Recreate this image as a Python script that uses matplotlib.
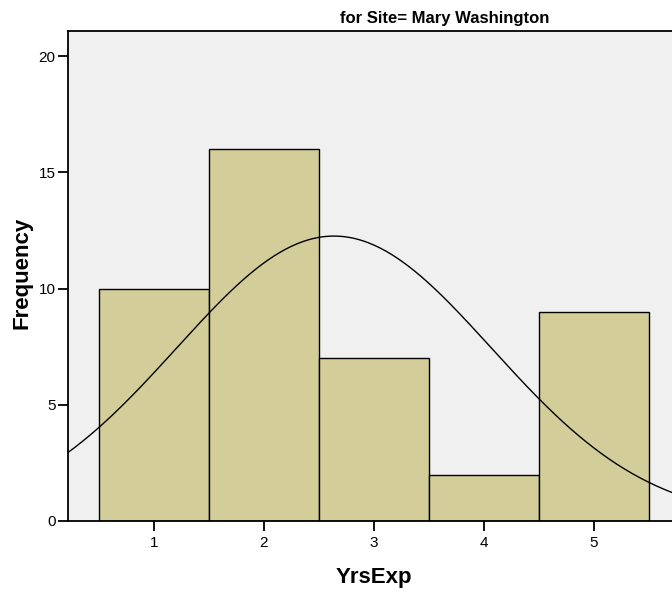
import numpy as np
import matplotlib.pyplot as plt

plt.rcParams['font.family'] = ['Liberation Sans', 'DejaVu Sans']

# years of experience, Mary Washington site
yrs = [1, 2, 3, 4, 5]
counts = [10, 16, 7, 2, 9]

values = np.repeat(yrs, counts)
n = len(values)
mu = values.mean()
sd = values.std(ddof=1)

fig = plt.figure(figsize=(6.72, 5.92), dpi=100)
ax_w = 0.96
ax = fig.add_axes([68 / 672, 71 / 592, ax_w, 490 / 592])
ax.set_facecolor('#f0f0f0')

ax.bar(yrs, counts, width=1.0, color='#d3ce99', edgecolor='black', linewidth=1.0, zorder=2)

# fitted normal curve scaled to counts
xs = np.linspace(0.0, 7.0, 400)
pdf = n * 1.0 / (sd * np.sqrt(2 * np.pi)) * np.exp(-0.5 * ((xs - mu) / sd) ** 2)
ax.plot(xs, pdf, color='black', linewidth=1.0, zorder=3)

x0 = 1 - 86 / 110
ax.set_xlim(x0, x0 + ax_w * 672 / 110)
ax.set_ylim(0, 21.08)
ax.set_xticks(yrs)
ax.set_yticks([0, 5, 10, 15, 20])
ax.tick_params(direction='out', length=7, width=1.3, labelsize=11, pad=2)
ax.tick_params(axis='x', pad=4)
for side in ax.spines.values():
    side.set_linewidth(1.3)

ax.set_xlabel('YrsExp', fontsize=16, fontweight='bold', va='center')
ax.xaxis.set_label_coords((374 - 68) / (672 * ax_w), -56 / 490)
ax.set_ylabel('Frequency', fontsize=16, fontweight='bold', va='center')
ax.yaxis.set_label_coords(-(68 - 22) / (672 * ax_w), 0.5 + (521 - 273 - 245) / 490)
fig.text(445 / 672, 1 - 18 / 592, 'for Site= Mary Washington', ha='center', va='center',
         fontsize=12, fontweight='bold')

fig.savefig('out.png', dpi=100)
